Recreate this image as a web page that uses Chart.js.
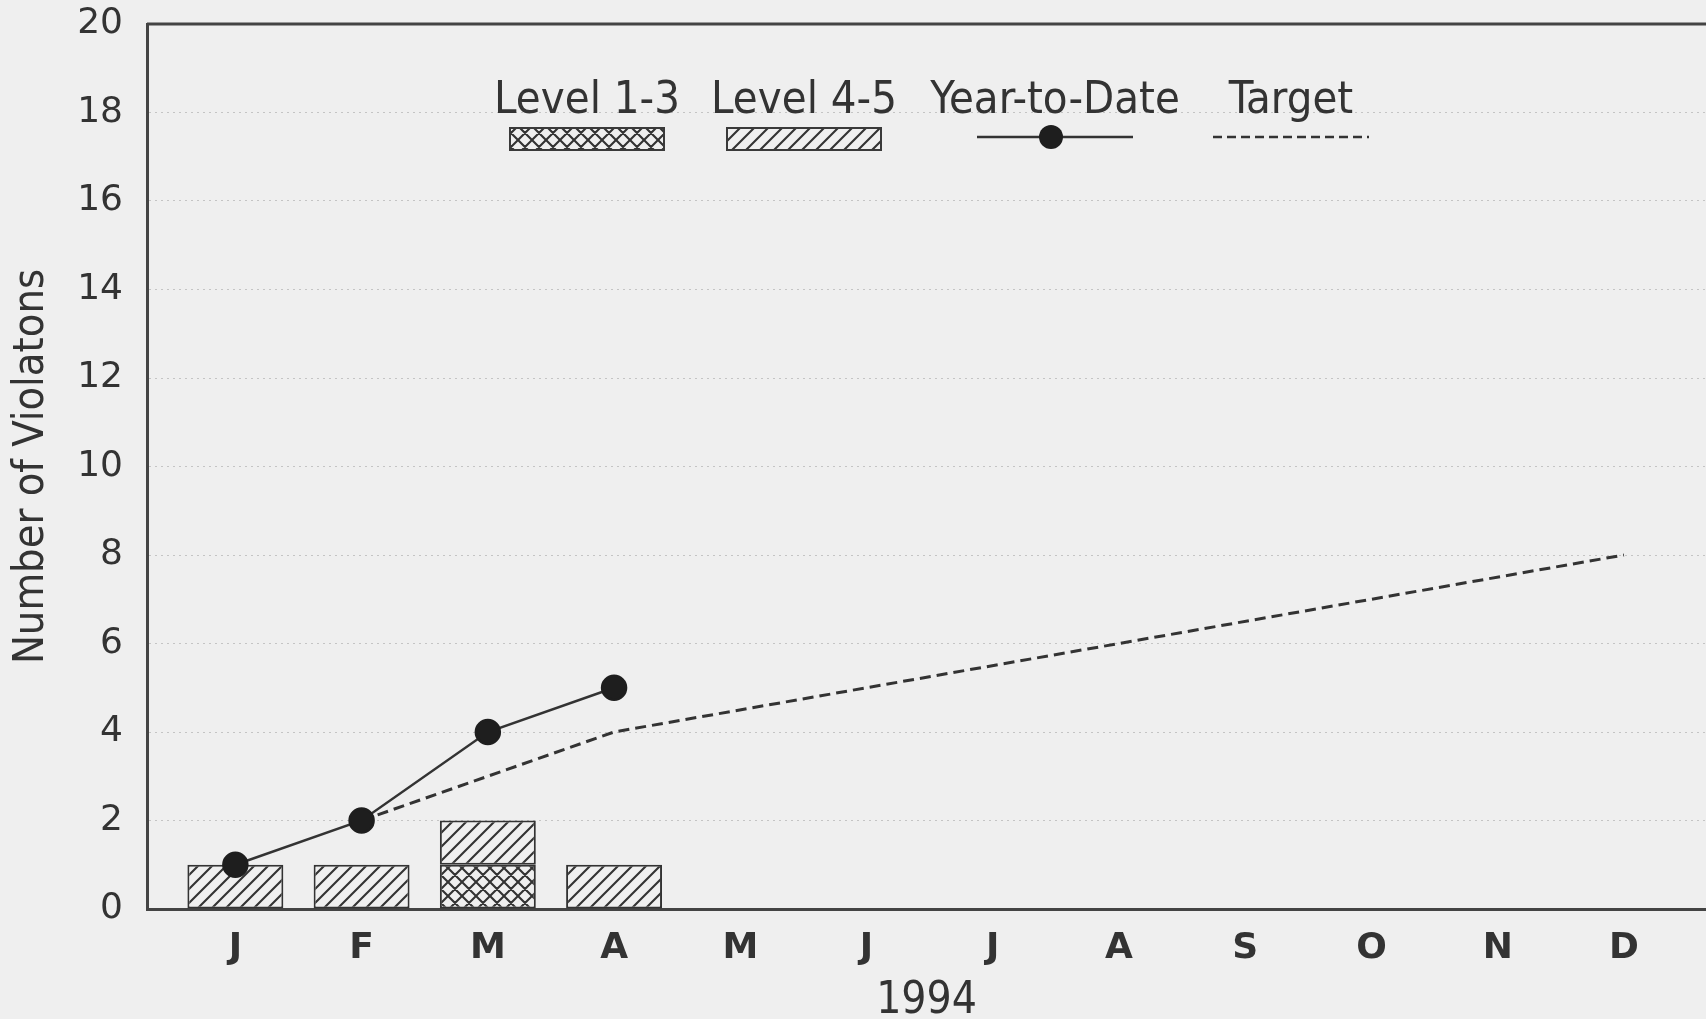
<!DOCTYPE html>
<html>
<head>
<meta charset="utf-8">
<title>Number of Violatons - 1994</title>
<script src="https://cdn.jsdelivr.net/npm/chart.js@4.4.1/dist/chart.umd.min.js"></script>
<style>
  html, body { margin: 0; padding: 0; background: #efefef; }
  canvas { display: block; }
</style>
</head>
<body>
<canvas id="chart" width="1706" height="1019"></canvas>
<script>
// x axis: months of 1994, index 0 = Jan
var months = ['J', 'F', 'M', 'A', 'M', 'J', 'J', 'A', 'S', 'O', 'N', 'D'];
var xTitle = '1994';
var yTitle = 'Number of Violatons';

// monthly counts (Jan - Apr only reported)
var level13 = [0, 0, 1, 0];
var level45 = [1, 1, 1, 1];
// cumulative
var yearToDate = [1, 2, 4, 5];
// target line, given at F, A and D
var target = [null, 2, null, 4, null, null, null, null, null, null, null, 8];

var BG = '#efefef';
var INK = '#333333';
var NARROW = "'Liberation Sans Narrow', 'DejaVu Sans Condensed', 'Liberation Sans', sans-serif";
var WIDE = "'DejaVu Sans', sans-serif";

var canvas = document.getElementById('chart');
var ctx = canvas.getContext('2d');

// hatch fills for the bars
function hatch(cross) {
  var s = 14;
  var c = document.createElement('canvas');
  c.width = s; c.height = s;
  var g = c.getContext('2d');
  g.fillStyle = BG;
  g.fillRect(0, 0, s, s);
  g.strokeStyle = '#333';
  g.lineWidth = 2.1;
  g.beginPath();
  g.moveTo(-2, s + 2); g.lineTo(s + 2, -2);
  g.moveTo(-2, 2); g.lineTo(2, -2);
  g.moveTo(s - 2, s + 2); g.lineTo(s + 2, s - 2);
  if (cross) {
    g.moveTo(-2, -2); g.lineTo(s + 2, s + 2);
    g.moveTo(s - 2, -2); g.lineTo(s + 2, 2);
    g.moveTo(-2, s - 2); g.lineTo(2, s + 2);
  }
  g.stroke();
  return ctx.createPattern(c, 'repeat');
}
var crossFill = hatch(true);
var diagFill = hatch(false);

function pts(arr, dropZero) {
  return arr.map(function (v, i) {
    return { x: i, y: (dropZero && !v) ? null : v };
  });
}

// legend sits inside the plot, text above the sample
var legendPlugin = {
  id: 'topLegend',
  afterDraw: function (chart) {
    var c = chart.ctx;
    c.save();
    c.font = '45px ' + NARROW;
    c.fillStyle = INK;
    c.textAlign = 'center';
    c.textBaseline = 'middle';
    var items = [
      { text: 'Level 1-3', cx: 587, kind: 'cross' },
      { text: 'Level 4-5', cx: 804, kind: 'diag' },
      { text: 'Year-to-Date', cx: 1055, kind: 'line' },
      { text: 'Target', cx: 1291, kind: 'dash' }
    ];
    items.forEach(function (it) {
      c.fillText(it.text, it.cx, 101);
      if (it.kind === 'cross' || it.kind === 'diag') {
        c.fillStyle = it.kind === 'cross' ? crossFill : diagFill;
        c.fillRect(it.cx - 77, 128, 154, 22);
        c.lineWidth = 2;
        c.strokeStyle = '#3a3a3a';
        c.strokeRect(it.cx - 77, 128, 154, 22);
        c.fillStyle = INK;
      } else {
        c.beginPath();
        c.lineWidth = 2.5;
        c.strokeStyle = INK;
        if (it.kind === 'dash') c.setLineDash([9, 5]);
        c.moveTo(it.cx - 78, 137);
        c.lineTo(it.cx + 78, 137);
        c.stroke();
        c.setLineDash([]);
        if (it.kind === 'line') {
          c.beginPath();
          c.fillStyle = '#1e1e1e';
          c.arc(it.cx - 4, 137, 12, 0, Math.PI * 2);
          c.fill();
          c.fillStyle = INK;
        }
      }
    });
    c.restore();
  }
};

// top frame line
var framePlugin = {
  id: 'frameTop',
  beforeDatasetsDraw: function (chart) {
    var a = chart.chartArea, c = chart.ctx;
    c.save();
    c.strokeStyle = '#444';
    c.lineWidth = 3;
    c.beginPath();
    c.moveTo(a.left, a.top);
    c.lineTo(a.right, a.top);
    c.stroke();
    c.restore();
  }
};

new Chart(ctx, {
  data: {
    datasets: [
      {
        type: 'line',
        label: 'Year-to-Date',
        data: pts(yearToDate),
        borderColor: INK,
        borderWidth: 2.5,
        pointRadius: 12,
        pointHoverRadius: 12,
        pointBackgroundColor: '#1e1e1e',
        pointBorderColor: '#1e1e1e',
        tension: 0,
        order: 1
      },
      {
        type: 'line',
        label: 'Target',
        data: pts(target),
        borderColor: INK,
        borderWidth: 3,
        borderDash: [11, 6],
        pointRadius: 0,
        spanGaps: true,
        tension: 0,
        order: 1
      },
      {
        type: 'bar',
        label: 'Level 1-3',
        data: pts(level13, true),
        backgroundColor: crossFill,
        borderColor: '#333',
        borderWidth: 2,
        borderSkipped: false,
        stack: 'lv',
        barPercentage: 0.76,
        categoryPercentage: 1,
        order: 2
      },
      {
        type: 'bar',
        label: 'Level 4-5',
        data: pts(level45, true),
        backgroundColor: diagFill,
        borderColor: '#333',
        borderWidth: 2,
        borderSkipped: false,
        stack: 'lv',
        barPercentage: 0.76,
        categoryPercentage: 1,
        order: 2
      }
    ]
  },
  options: {
    responsive: false,
    animation: false,
    devicePixelRatio: 1,
    layout: { autoPadding: false, padding: { top: 24, right: 0, left: 0, bottom: 0 } },
    plugins: {
      legend: { display: false },
      tooltip: { enabled: false }
    },
    scales: {
      x: {
        type: 'linear',
        offset: false,
        min: -0.7,
        max: 11.65,
        afterBuildTicks: function (s) {
          s.ticks = months.map(function (m, i) { return { value: i }; });
        },
        afterFit: function (s) {
          s.height = 110;
          s.paddingLeft = 0;
          s.paddingRight = 0;
        },
        grid: { display: false, drawTicks: false, offset: false },
        border: { display: true, color: '#444', width: 3 },
        ticks: {
          padding: 18,
          color: INK,
          font: { family: WIDE, size: 36, weight: 'bold' },
          maxRotation: 0,
          autoSkip: false,
          callback: function (v) { return months[v]; }
        },
        title: {
          display: true,
          text: xTitle,
          color: INK,
          font: { family: NARROW, size: 44, lineHeight: 0.8 },
          padding: 0
        }
      },
      y: {
        min: 0,
        max: 20,
        afterFit: function (s) {
          s.width = 147;
          s.paddingTop = 0;
          s.paddingBottom = 0;
        },
        grid: { color: '#c4c4c4', lineWidth: 1, drawTicks: false },
        border: { display: true, color: '#444', width: 3, dash: [2, 4] },
        ticks: {
          stepSize: 2,
          padding: 24,
          color: INK,
          font: { family: WIDE, size: 36 }
        },
        title: {
          display: true,
          text: yTitle,
          color: INK,
          font: { family: NARROW, size: 43, lineHeight: 1 },
          padding: { top: 10, bottom: 0 }
        }
      }
    }
  },
  plugins: [framePlugin, legendPlugin]
});
</script>
</body>
</html>
